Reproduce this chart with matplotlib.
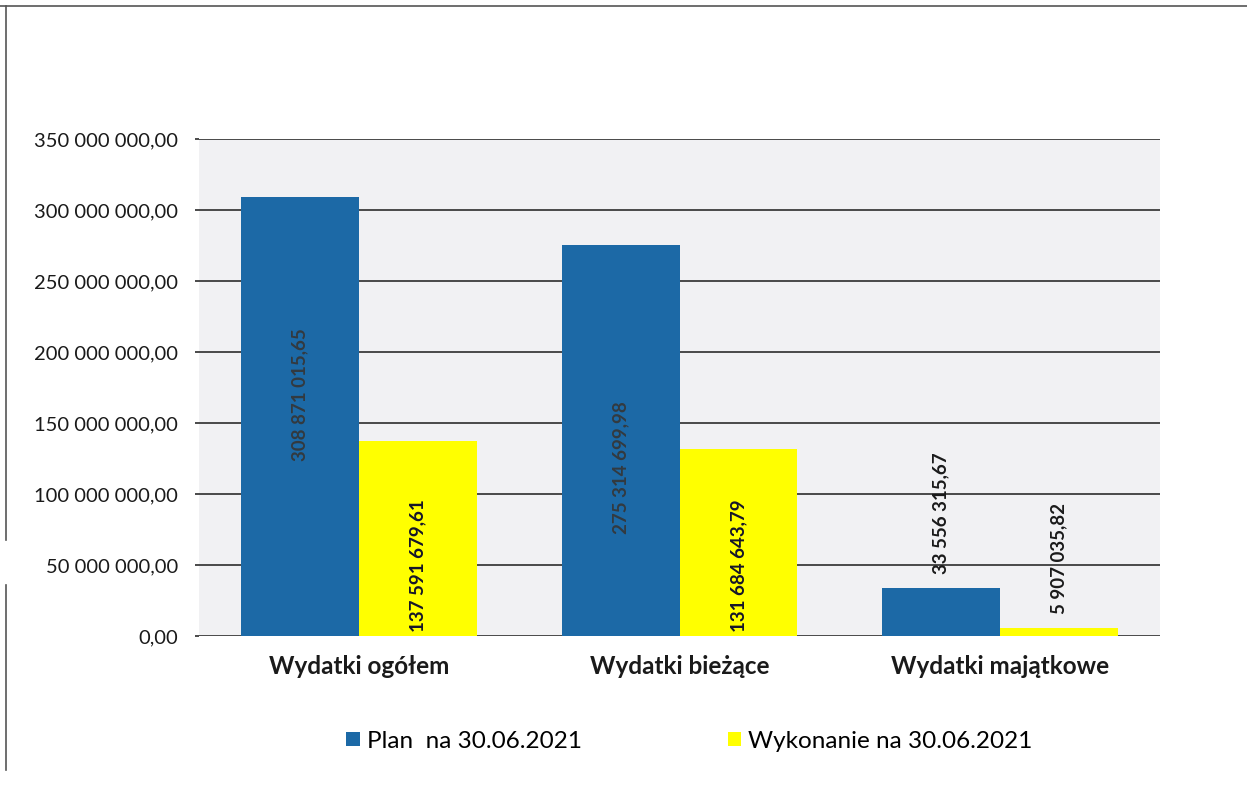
import numpy as np
import matplotlib
matplotlib.use("Agg")
import matplotlib.pyplot as plt
from matplotlib.lines import Line2D
from matplotlib.ticker import FuncFormatter

plt.rcParams['font.family'] = ['Lato', 'DejaVu Sans']

categories = ['Wydatki ogółem', 'Wydatki bieżące', 'Wydatki majątkowe']
plan = [308871015.65, 275314699.98, 33556315.67]
wykonanie = [137591679.61, 131684643.79, 5907035.82]
plan_labels = ['308 871 015,65', '275 314 699,98', '33 556 315,67']
wyk_labels = ['137 591 679,61', '131 684 643,79', '5 907 035,82']
series_names = ['Plan  na 30.06.2021', 'Wykonanie na 30.06.2021']

blue = '#1c69a6'
yellow = '#ffff00'


def fmt_pl(v, pos):
    s = '{:,.2f}'.format(v)
    return s.replace(',', ' ').replace('.', ',')


fig = plt.figure(figsize=(12.47, 7.98), dpi=100)
ax = fig.add_axes([199 / 1247, 1 - 636 / 798, (1160 - 199) / 1247, (636 - 139) / 798])
ax.set_facecolor('#f1f1f3')

x = np.arange(len(categories))
w = 0.368
b1 = ax.bar(x - w / 2, plan, w, color=blue, zorder=3)
b2 = ax.bar(x + w / 2, wykonanie, w, color=yellow, zorder=3)

ax.set_xlim(-0.5, 2.5)
ax.set_ylim(0, 350e6)
ax.set_yticks(np.arange(0, 350e6 + 1, 50e6))
ax.yaxis.set_major_formatter(FuncFormatter(fmt_pl))
ax.grid(axis='y', color='#3c3c3c', linewidth=1.3, zorder=1)
ax.set_axisbelow(True)
for s in ax.spines.values():
    s.set_visible(False)
ax.tick_params(axis='y', length=3, width=1.3, color='#3c3c3c', pad=12,
               labelsize=14.5, labelcolor='#1a1a1a')
ax.set_xticks(x)
ax.set_xticklabels(categories, fontweight='bold', fontsize=17.5, color='#1a1a1a')
ax.tick_params(axis='x', length=0, pad=14)

# value labels (Excel-like positions)
blue_pos = [0.55, 0.43, None]
lab_kw = dict(rotation=90, ha='center', fontsize=13.5, fontweight='bold', zorder=4)
for i, r in enumerate(b1):
    cx = r.get_x() + r.get_width() / 2
    if blue_pos[i] is not None:
        ax.text(cx, plan[i] * blue_pos[i], plan_labels[i], va='center',
                color='#333a40', **lab_kw)
    else:
        ax.annotate(plan_labels[i], (cx, plan[i]), xytext=(0, 10),
                    textcoords='offset points', va='bottom', color='#1a1a1a', **lab_kw)
for i, r in enumerate(b2):
    cx = r.get_x() + r.get_width() / 2
    if i < 2:
        ax.annotate(wyk_labels[i], (cx, 0), xytext=(0, 3),
                    textcoords='offset points', va='bottom', color='#15152a', **lab_kw)
    else:
        ax.annotate(wyk_labels[i], (cx, wykonanie[i]), xytext=(0, 10),
                    textcoords='offset points', va='bottom', color='#1a1a1a', **lab_kw)

fig.legend([b1, b2], series_names, loc='center', bbox_to_anchor=(0.553, 1 - 741 / 798),
           ncol=2, frameon=False, fontsize=17.5, handlelength=0.55, handleheight=0.55,
           handletextpad=0.3, columnspacing=6.0)

# scanned page frame
fig.add_artist(Line2D([0, 1], [1 - 6 / 798, 1 - 6 / 798], color='#555555', lw=1.2))
fig.add_artist(Line2D([6 / 1247, 6 / 1247], [1 - 6 / 798, 1 - 540 / 798], color='#555555', lw=1.2))
fig.add_artist(Line2D([6 / 1247, 6 / 1247], [1 - 585 / 798, 1 - 770 / 798], color='#555555', lw=1.2))

fig.savefig('out.png', dpi=100, facecolor='white')
